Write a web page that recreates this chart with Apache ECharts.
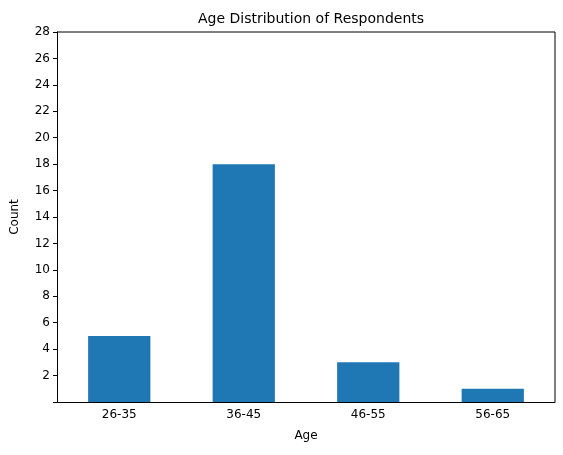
<!DOCTYPE html>
<html>
<head>
<meta charset="utf-8">
<script src="https://cdn.jsdelivr.net/npm/echarts@6/dist/echarts.min.js"></script>
<style>body{margin:0}#c{width:563px;height:455px}</style>
</head>
<body>
<div id="c"></div>
<script>
// age groups and respondent counts
const ageGroups = ['26-35', '36-45', '46-55', '56-65'];
const counts = [5, 18, 3, 1];

const font = 'DejaVu Sans';
const chart = echarts.init(document.getElementById('c'));
chart.setOption({
  animation: false,
  textStyle: { fontFamily: font },
  title: {
    text: 'Age Distribution of Respondents',
    left: 306, top: 7, textAlign: 'center',
    textStyle: { fontFamily: font, fontSize: 14, fontWeight: 'normal', color: '#000' }
  },
  grid: { left: 57, right: 8, top: 32, bottom: 53 },
  xAxis: {
    type: 'category',
    data: ageGroups,
    name: 'Age', nameLocation: 'middle', nameGap: 28,
    nameTextStyle: { fontFamily: font, fontSize: 12, color: '#000' },
    axisLine: { lineStyle: { color: '#000' } },
    axisTick: { alignWithLabel: true, length: 4, lineStyle: { color: '#000' } },
    axisLabel: { fontFamily: font, fontSize: 12, color: '#000', margin: 7 }
  },
  yAxis: {
    type: 'value', min: 0, max: 28, interval: 2,
    name: 'Count', nameLocation: 'middle', nameGap: 36,
    nameTextStyle: { fontFamily: font, fontSize: 12, color: '#000' },
    axisLine: { show: true, lineStyle: { color: '#000' } },
    axisTick: { show: true, length: 4, lineStyle: { color: '#000' } },
    axisLabel: { fontFamily: font, fontSize: 12, color: '#000', margin: 7,
      formatter: v => v === 0 ? '' : v },
    splitLine: { show: false }
  },
  series: [{
    type: 'bar',
    data: counts,
    barWidth: '50%',
    itemStyle: { color: '#1f77b4' }
  }]
});
// close the frame on top and right like the original axes box
chart.setOption({
  graphic: [{
    type: 'polyline', silent: true,
    shape: { points: [[57, 32], [555, 32], [555, 402]] },
    style: { stroke: '#000', lineWidth: 1, fill: null }
  }]
});
</script>
</body>
</html>
